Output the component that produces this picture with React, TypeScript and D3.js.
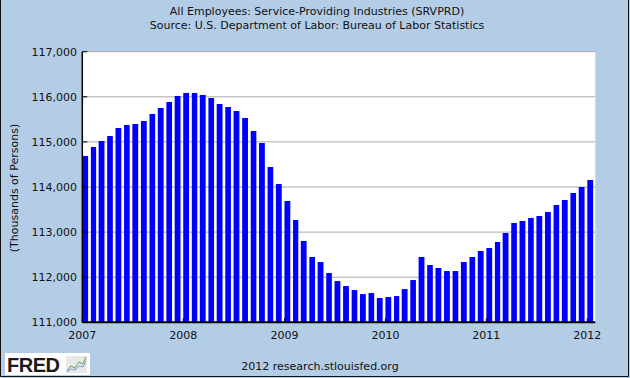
import React from "react";
import * as d3 from "d3";

const title = "All Employees: Service-Providing Industries (SRVPRD)";
const subtitle = "Source: U.S. Department of Labor: Bureau of Labor Statistics";
const yLabel = "(Thousands of Persons)";
const footer = "2012 research.stlouisfed.org";

const startYear = 2007;
const values2007 = [114687, 114887, 115020, 115131, 115308, 115375, 115397, 115463, 115619, 115752, 115885, 116018];
const values2008 = [116085, 116085, 116041, 115974, 115841, 115774, 115685, 115530, 115241, 114975, 114443, 114066];
const values2009 = [113690, 113268, 112803, 112448, 112337, 112093, 111915, 111804, 111715, 111626, 111649, 111538];
const values2010 = [111560, 111582, 111737, 111937, 112448, 112270, 112204, 112137, 112137, 112337, 112448, 112581];
const values2011 = [112647, 112781, 112980, 113202, 113246, 113313, 113357, 113446, 113601, 113712, 113867, 114000];
const values2012 = [114155];

const yTicks = [111000, 112000, 113000, 114000, 115000, 116000, 117000];
const xTickYears = [2007, 2008, 2009, 2010, 2011, 2012];

const allValues = [...values2007, ...values2008, ...values2009, ...values2010, ...values2011, ...values2012];
const data = allValues.map((v, i) => ({
  date: new Date(Date.UTC(startYear + Math.floor(i / 12), i % 12, 1)),
  next: new Date(Date.UTC(startYear + Math.floor((i + 1) / 12), (i + 1) % 12, 1)),
  value: v,
}));

const W = 630;
const H = 378;
const left = 82.3;
const right = 595.3;
const top = 51.7;
const bottom = 322.3;

export default function App() {
  const x = d3
    .scaleUtc()
    .domain([new Date(Date.UTC(2007, 0, 1)), new Date(Date.UTC(2012, 0, 1))])
    .range([left, 587.3]);
  const y = d3.scaleLinear().domain([111000, 117000]).range([bottom, top]);
  const fmt = d3.format(",");
  const font = "DejaVu Sans, Verdana, sans-serif";
  const fs = 11;

  return (
    <svg
      width={W}
      height={H}
      style={{ position: "absolute", left: 0, top: 0, display: "block" }}
      fontFamily={font}
    >
      <rect x={0} y={0} width={W} height={H} fill="#b4cde6" />
      <path d="M0.5,0 V376.5 H628.5 V0" fill="none" stroke="#111" strokeWidth={1} />
      <text x={317} y={15} textAnchor="middle" fontSize={fs} fill="#111">{title}</text>
      <text x={317} y={29} textAnchor="middle" fontSize={fs} fill="#111">{subtitle}</text>

      <rect x={left} y={top} width={right - left} height={bottom - top} fill="#fff" />
      {yTicks.map((t) => (
        <line key={"g" + t} x1={left} x2={right} y1={y(t)} y2={y(t)} stroke="#aaaaaa" strokeWidth={1} />
      ))}
      {data.map((d, i) => {
        const x0 = x(d.date);
        const w = (x(d.next) - x0) * 0.68;
        return (
          <rect key={i} x={x0} y={y(d.value)} width={w} height={bottom - y(d.value)} fill="#0000ff" />
        );
      })}
      {yTicks.map((t) => (
        <line key={"t" + t} x1={left} x2={left + 5} y1={y(t)} y2={y(t)} stroke="#000" strokeWidth={1} />
      ))}
      {xTickYears.map((yr) => {
        const xx = x(new Date(Date.UTC(yr, 0, 1)));
        return <line key={"xt" + yr} x1={xx} x2={xx} y1={bottom} y2={bottom - 4} stroke="#000" strokeWidth={1} />;
      })}
      <line x1={left} x2={left} y1={top} y2={bottom} stroke="#000" strokeWidth={1.5} />
      <line x1={left} x2={right} y1={bottom} y2={bottom} stroke="#000" strokeWidth={2} />

      {yTicks.map((t) => (
        <text key={"yl" + t} x={77} y={y(t) + 4} textAnchor="end" fontSize={fs} fill="#111">
          {fmt(t)}
        </text>
      ))}
      {xTickYears.map((yr) => (
        <text key={"xl" + yr} x={x(new Date(Date.UTC(yr, 0, 1)))} y={338.5} textAnchor="middle" fontSize={fs} fill="#111">
          {yr}
        </text>
      ))}
      <text
        transform={`translate(17.5,188) rotate(-90)`}
        textAnchor="middle"
        fontSize={fs}
        fill="#111"
      >
        {yLabel}
      </text>
      <text x={320} y={369.5} textAnchor="middle" fontSize={fs} fill="#111">{footer}</text>

      <g>
        <rect x={5} y={353} width={85} height={22} fill="#fff" />
        <text x={7} y={372} fontSize={20} fontWeight="bold" fontFamily="Liberation Sans, Arial, sans-serif" fill="#1a1a1a" letterSpacing={-0.5}>
          FRED
        </text>
        <rect x={66} y={356} width={21} height={17} fill="#e8e8e8" />
        <polyline points="67,371 71,366 75,368 79,362 83,364 86,357" fill="none" stroke="#7fb07f" strokeWidth={1.2} />
        <polyline points="67,372 71,369 75,370 79,366 83,367 86,361" fill="none" stroke="#7f9fd0" strokeWidth={1} />
      </g>
    </svg>
  );
}
